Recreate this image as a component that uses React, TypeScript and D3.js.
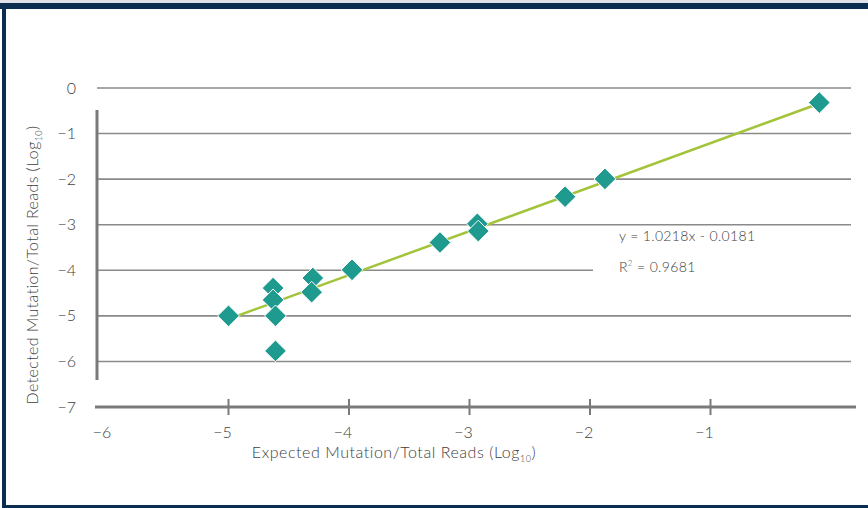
import React from "react";
import * as d3 from "d3";

const W = 868;
const H = 508;

// Data (log10 values)
const expected = [-5.0, -4.63, -4.63, -4.61, -4.61, -4.3, -4.31, -3.975, -3.245, -2.935, -2.927, -2.207, -1.876, -0.097];
const detected = [-5.0, -4.39, -4.65, -5.0, -5.77, -4.17, -4.48, -3.99, -3.39, -2.98, -3.14, -2.385, -1.995, -0.32];
const trendX = [-5.0, -0.097];
const trendY = [-5.07, -0.34];
const xTicks = [-6, -5, -4, -3, -2, -1];
const xTickMarks = [-5, -4, -3, -2, -1];
const yTicks = [0, -1, -2, -3, -4, -5, -6, -7];
const equationText = "y = 1.0218x - 0.0181";
const r2Text = " = 0.9681";

const FONT = "Lato, 'Open Sans', sans-serif";
const TEXT = "#404040";
const GRID = "#8a8a8a";
const AXIS = "#7a7a7a";
const TEAL = "#1f9a8e";
const LIME = "#a3c43a";
const NAVY = "#0b2e50";

export default function App() {
  const x = d3.scaleLinear().domain([-6, 0]).range([108, 831]);
  const y = d3.scaleLinear().domain([-7, 0]).range([407, 88]);
  const gridLeft = 97;
  const gridRight = 851;
  const fmt = (v: number) => (v < 0 ? "\u2212" + Math.abs(v) : String(v));
  const line = d3
    .line<number>()
    .x((_, i) => x(trendX[i]))
    .y((d) => y(d));
  const diamond = d3.symbol().type(d3.symbolDiamond2).size(300);
  return (
    <svg
      width={W}
      height={H}
      style={{ position: "absolute", left: 0, top: 0, background: "#fff" }}
      fontFamily={FONT}
      fontWeight={300}
    >
      {/* frame */}
      <rect x={0} y={0} width={W} height={3} fill="#dfe3e8" />
      <rect x={0} y={3} width={W} height={6} fill={NAVY} />
      <rect x={2} y={3} width={4} height={H - 3} fill={NAVY} />
      <rect x={2} y={505} width={W} height={3} fill={NAVY} />

      {/* grid lines */}
      {yTicks
        .filter((t) => t !== -7)
        .map((t) => (
          <line
            key={"g" + t}
            x1={gridLeft}
            x2={t === -4 ? 593 : gridRight}
            y1={y(t)}
            y2={y(t)}
            stroke={GRID}
            strokeWidth={1.6}
          />
        ))}

      {/* y axis */}
      <line x1={97} x2={97} y1={110} y2={380} stroke={AXIS} strokeWidth={3} />
      {/* x axis */}
      <line x1={95} x2={856} y1={y(-7)} y2={y(-7)} stroke={AXIS} strokeWidth={3} />
      {xTickMarks.map((t) => (
        <line key={"xt" + t} x1={x(t)} x2={x(t)} y1={399} y2={415} stroke={AXIS} strokeWidth={2} />
      ))}

      {/* tick labels */}
      {yTicks.map((t) => (
        <text
          key={"yl" + t}
          x={76}
          y={y(t)}
          dy="0.35em"
          textAnchor="end"
          fontSize={16}
          fill={TEXT}
        >
          {fmt(t)}
        </text>
      ))}
      {xTicks.map((t) => (
        <text
          key={"xl" + t}
          x={x(t) - 6}
          y={438}
          textAnchor="middle"
          fontSize={16}
          fill={TEXT}
        >
          {fmt(t)}
        </text>
      ))}

      {/* axis titles */}
      <text x={394} y={458} textAnchor="middle" fontSize={16} letterSpacing={0.55} fill={TEXT}>
        Expected Mutation/Total Reads (Log
        <tspan fontSize={9} dy={4}>10</tspan>
        <tspan dy={-4}>)</tspan>
      </text>
      <text
        transform={`translate(38,265) rotate(-90)`}
        textAnchor="middle"
        fontSize={16}
        letterSpacing={0.4}
        fill={TEXT}
      >
        Detected Mutation/Total Reads (Log
        <tspan fontSize={9} dy={4}>10</tspan>
        <tspan dy={-4}>)</tspan>
      </text>

      {/* trend line */}
      <path d={line(trendY) || ""} fill="none" stroke={LIME} strokeWidth={2.5} />

      {/* points */}
      {expected.map((ex, i) => (
        <path
          key={"p" + i}
          d={diamond() || ""}
          transform={`translate(${x(ex)},${y(detected[i])})`}
          fill={TEAL}
          stroke="#fff"
          strokeWidth={1}
        />
      ))}

      {/* equation */}
      <text x={619} y={241} fontSize={14} letterSpacing={0.35} fill={TEXT}>
        {equationText}
      </text>
      <text x={619} y={272} fontSize={14} letterSpacing={0.35} fill={TEXT}>
        R<tspan fontSize={8} dy={-6}>2</tspan>
        <tspan dy={6}>{r2Text}</tspan>
      </text>
    </svg>
  );
}
